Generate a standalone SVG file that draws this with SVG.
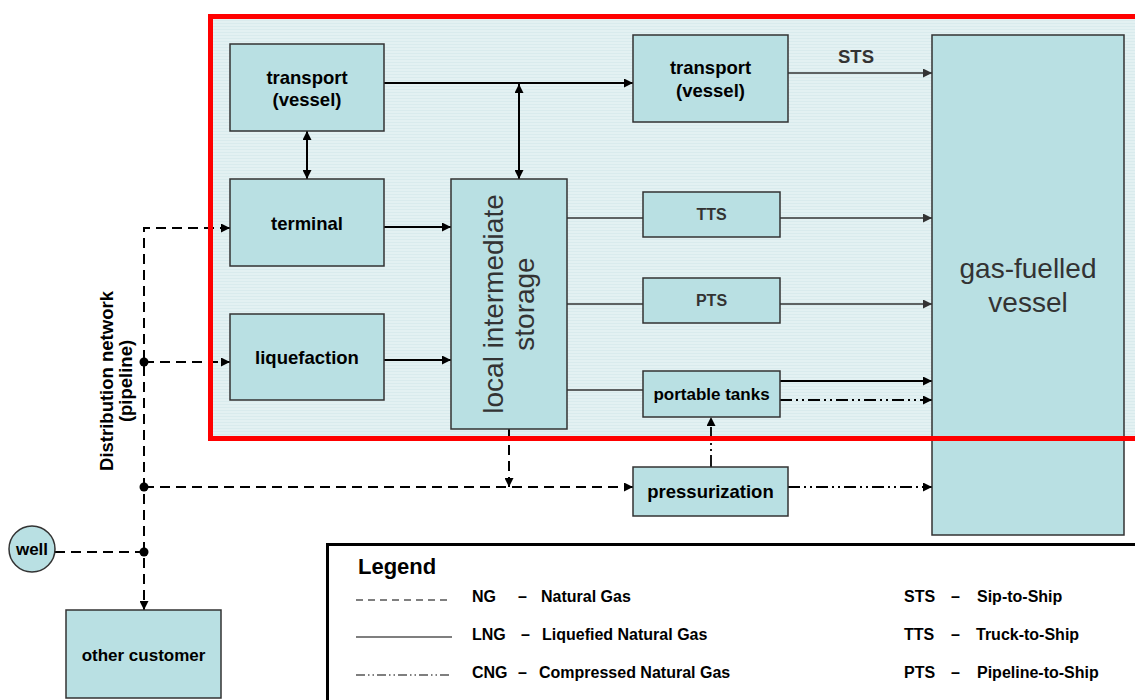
<svg xmlns="http://www.w3.org/2000/svg" width="1135" height="700" viewBox="0 0 1135 700">
<style>
.box{fill:#b9e0e3;stroke:#333;stroke-width:1.5}
.lbl{font-family:"Liberation Sans",Arial,sans-serif;font-weight:bold;font-size:18.5px;fill:#000;text-anchor:middle}
.sm{font-size:16px;fill:#333}
.big{font-family:"Liberation Sans",Arial,sans-serif;font-size:28px;fill:#333;text-anchor:middle}
.lg{font-family:"Liberation Sans",Arial,sans-serif;font-weight:bold;font-size:16px;fill:#000}
.ng{fill:none;stroke:#000;stroke-width:2;stroke-dasharray:10 6}
.lng{fill:none;stroke:#000;stroke-width:2}
.gr{fill:none;stroke:#333;stroke-width:1.5}
.cng{fill:none;stroke:#000;stroke-width:1.8;stroke-dasharray:12 4 2 4 2 4}
</style>
<defs>
<pattern id="stripes" width="8" height="3" patternUnits="userSpaceOnUse">
<rect width="8" height="3" fill="#e3f1f2"/>
<rect y="2" width="8" height="1" fill="#d9ebed"/>
</pattern>
<marker id="ah" viewBox="0 0 10 10" refX="10" refY="5" markerWidth="10" markerHeight="9" markerUnits="userSpaceOnUse" orient="auto-start-reverse">
<path d="M0,0 L10,5 L0,10 z" fill="#000"/>
</marker>
<marker id="ahg" viewBox="0 0 10 10" refX="10" refY="5" markerWidth="10" markerHeight="9" markerUnits="userSpaceOnUse" orient="auto-start-reverse">
<path d="M0,0 L10,5 L0,10 z" fill="#333"/>
</marker>
</defs>
<rect width="1135" height="700" fill="#fff"/>
<rect id="area-bg" x="210.5" y="16.5" width="940" height="422" fill="url(#stripes)"/>

<g id="connectors">
<line class="lng" x1="384" y1="83" x2="633" y2="83" marker-end="url(#ah)"/>
<line class="lng" x1="519" y1="84" x2="519" y2="179" marker-start="url(#ah)" marker-end="url(#ah)"/>
<line class="lng" x1="307" y1="131" x2="307" y2="179" marker-start="url(#ah)" marker-end="url(#ah)"/>
<line class="lng" x1="384" y1="227" x2="451" y2="227" marker-end="url(#ah)"/>
<line class="lng" x1="384" y1="360" x2="451" y2="360" marker-end="url(#ah)"/>
<line class="gr" x1="788" y1="73" x2="932" y2="73" marker-end="url(#ahg)"/>
<line class="gr" x1="567" y1="218" x2="643" y2="218"/>
<line class="gr" x1="780" y1="218" x2="932" y2="218" marker-end="url(#ahg)"/>
<line class="gr" x1="567" y1="304" x2="643" y2="304"/>
<line class="gr" x1="780" y1="304" x2="932" y2="304" marker-end="url(#ahg)"/>
<line class="gr" x1="567" y1="390" x2="643" y2="390"/>
<line class="lng" x1="780" y1="381" x2="932" y2="381" marker-end="url(#ah)"/>
<line class="cng" x1="780" y1="400" x2="932" y2="400" marker-end="url(#ah)"/>
<line class="cng" x1="788" y1="487" x2="932" y2="487" marker-end="url(#ah)"/>
<line class="cng" x1="711" y1="467" x2="711" y2="417" marker-end="url(#ah)"/>
<polyline class="ng" points="230,228 144,228 144,610" marker-start="url(#ah)" marker-end="url(#ah)"/>
<line class="ng" x1="144" y1="362" x2="230" y2="362" marker-end="url(#ah)"/>
<line class="ng" x1="144" y1="487" x2="633" y2="487" marker-end="url(#ah)"/>
<line class="ng" x1="55" y1="552" x2="144" y2="552"/>
<line class="ng" x1="509" y1="429" x2="509" y2="487" marker-end="url(#ah)"/>
<circle cx="144" cy="362" r="4.5" fill="#000"/>
<circle cx="144" cy="487" r="4.5" fill="#000"/>
<circle cx="144" cy="552" r="4.5" fill="#000"/>
<text class="lbl" x="856" y="63" style="fill:#333">STS</text>
</g>

<g id="transport1"><rect class="box" x="230" y="44" width="154" height="87"/><text class="lbl" x="307" y="84">transport</text><text class="lbl" x="307" y="106">(vessel)</text></g>
<g id="terminal"><rect class="box" x="230" y="179" width="154" height="87"/><text class="lbl" x="307" y="230">terminal</text></g>
<g id="liquefaction"><rect class="box" x="230" y="314" width="154" height="86"/><text class="lbl" x="307" y="364">liquefaction</text></g>
<g id="storage"><rect class="box" x="451" y="179" width="116" height="250"/>
<g transform="translate(0 304) rotate(-90)"><text class="big" x="0" y="503">local intermediate</text><text class="big" x="0" y="534">storage</text></g></g>
<g id="transport2"><rect class="box" x="633" y="35" width="155" height="87"/><text class="lbl" x="710.5" y="74">transport</text><text class="lbl" x="710.5" y="97">(vessel)</text></g>
<g id="tts"><rect class="box" x="643" y="192" width="137" height="45"/><text class="lbl sm" x="711.5" y="220">TTS</text></g>
<g id="pts"><rect class="box" x="643" y="278" width="137" height="45"/><text class="lbl sm" x="711.5" y="306">PTS</text></g>
<g id="portable"><rect class="box" x="643" y="371" width="137" height="46"/><text class="lbl" x="711.5" y="400" style="font-size:17px">portable tanks</text></g>
<g id="vessel"><rect class="box" x="932" y="35" width="192" height="500"/><text class="big" x="1028" y="278">gas-fuelled</text><text class="big" x="1028" y="312">vessel</text></g>
<g id="pressurization"><rect class="box" x="633" y="467" width="155" height="49"/><text class="lbl" x="710.5" y="498">pressurization</text></g>
<g id="other"><rect class="box" x="66" y="610" width="155" height="88"/><text class="lbl" x="143.5" y="661" style="font-size:17px">other customer</text></g>
<g id="well"><circle class="box" cx="32" cy="549" r="23"/><text class="lbl" x="32" y="555" style="font-size:17px">well</text></g>
<g id="distribution"><g transform="translate(0 381) rotate(-90)"><text class="lbl" x="0" y="113">Distribution network</text><text class="lbl" x="0" y="132">(pipeline)</text></g></g>

<rect id="area-frame" x="210.5" y="16.5" width="940" height="422" fill="none" stroke="#ff0000" stroke-width="5"/>

<g id="legend">
<rect x="327.5" y="544.5" width="830" height="180" fill="#fff" stroke="#000" stroke-width="3"/>
<text class="lg" x="358" y="574" style="font-size:22px">Legend</text>
<line x1="356" y1="600" x2="452" y2="600" stroke="#000" stroke-width="1.2" stroke-dasharray="7 5"/>
<line x1="356" y1="637" x2="452" y2="637" stroke="#000" stroke-width="1.2"/>
<line x1="356" y1="675" x2="452" y2="675" stroke="#000" stroke-width="1.2" stroke-dasharray="9 3 1.5 3 1.5 3"/>
<text class="lg" x="472" y="602">NG</text><text class="lg" x="518" y="602">–</text><text class="lg" x="541" y="602">Natural Gas</text>
<text class="lg" x="472" y="640">LNG</text><text class="lg" x="521" y="640">–</text><text class="lg" x="542" y="640">Liquefied Natural Gas</text>
<text class="lg" x="472" y="678">CNG</text><text class="lg" x="518" y="678">–</text><text class="lg" x="539" y="678">Compressed Natural Gas</text>
<text class="lg" x="904" y="602">STS</text><text class="lg" x="951" y="602">–</text><text class="lg" x="977" y="602">Sip-to-Ship</text>
<text class="lg" x="904" y="640">TTS</text><text class="lg" x="951" y="640">–</text><text class="lg" x="976" y="640">Truck-to-Ship</text>
<text class="lg" x="904" y="678">PTS</text><text class="lg" x="951" y="678">–</text><text class="lg" x="977" y="678">Pipeline-to-Ship</text>
</g>
</svg>
